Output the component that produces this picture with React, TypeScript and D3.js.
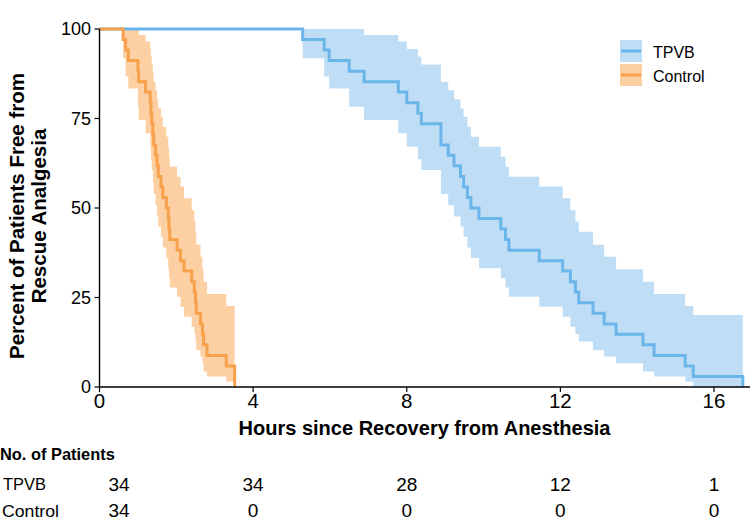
import React from "react";
import * as d3 from "d3";

// ---- Data ----
// TPVB group: event times (hours), percent free, and confidence band
const tpvbTimes = [0, 5.29, 5.85, 5.98, 6.5, 6.89, 7.78, 8.0, 8.29, 8.38, 8.89, 9.08, 9.23, 9.4, 9.48, 9.58, 9.67, 9.88, 10.45, 10.57, 10.66, 11.45, 12.06, 12.26, 12.39, 12.48, 12.85, 13.14, 13.45, 14.15, 14.44, 15.25, 15.46, 16.75];
const tpvbSurv = [100, 97.1, 94.1, 91.2, 88.2, 85.3, 82.4, 79.4, 76.5, 73.5, 67.6, 64.7, 61.8, 58.8, 55.9, 52.9, 50.0, 47.1, 44.1, 41.2, 38.2, 35.3, 32.4, 29.4, 26.5, 23.5, 20.6, 17.6, 14.7, 11.8, 8.8, 5.9, 2.9, 0];
const tpvbUpper = [100, 100, 100, 100, 100, 98.3, 96.5, 94.4, 92.3, 90.1, 85.3, 82.9, 80.4, 77.8, 75.5, 72.7, 69.9, 67.1, 64.3, 61.5, 58.7, 56.0, 52.7, 49.4, 46.2, 43.4, 39.7, 36.4, 32.9, 29.4, 26.0, 22.6, 20.1, 20.1];
const tpvbLower = [100, 91.8, 86.7, 83.4, 78.3, 74.6, 70.9, 67.1, 63.6, 60.6, 53.9, 50.8, 47.6, 44.8, 42.0, 39.0, 36.0, 33.2, 30.4, 27.8, 25.2, 22.4, 19.6, 16.8, 14.8, 12.7, 10.3, 8.5, 6.6, 4.3, 2.9, 1.5, 0, 0];

// Control group
const controlTimes = [0, 0.615, 0.68, 0.75, 1.0, 1.02, 1.2, 1.32, 1.34, 1.36, 1.39, 1.41, 1.46, 1.5, 1.53, 1.6, 1.65, 1.74, 1.79, 1.81, 1.83, 2.02, 2.11, 2.2, 2.4, 2.47, 2.5, 2.52, 2.63, 2.68, 2.71, 2.8, 3.3, 3.52];
const controlSurv = [100, 97.1, 94.1, 91.2, 88.2, 85.3, 82.4, 79.4, 76.5, 73.5, 70.6, 67.6, 64.7, 61.8, 58.8, 55.9, 52.9, 50.0, 47.1, 44.1, 41.2, 38.2, 35.3, 32.4, 29.4, 26.5, 23.5, 20.6, 17.6, 14.7, 11.8, 8.8, 5.9, 0];
const controlUpper = [100, 100, 100, 100, 100, 98.3, 96.5, 94.4, 92.3, 90.1, 87.7, 85.3, 82.9, 80.4, 77.8, 75.5, 72.7, 69.9, 67.1, 64.3, 61.5, 58.7, 56.0, 52.7, 49.4, 46.2, 43.4, 39.7, 36.4, 32.9, 29.4, 26.0, 22.6, 22.6];
const controlLower = [100, 91.8, 86.7, 83.4, 78.3, 74.6, 70.9, 67.1, 63.6, 60.6, 57.2, 53.9, 50.8, 47.6, 44.8, 42.0, 39.0, 36.0, 33.2, 30.4, 27.8, 25.2, 22.4, 19.6, 16.8, 14.8, 12.7, 10.3, 8.5, 6.6, 4.3, 2.9, 1.5, 1.5];

const xTicks = [0, 4, 8, 12, 16];
const yTicks = [0, 25, 50, 75, 100];
const riskGroups = ["TPVB", "Control"];
const riskTPVB = [34, 34, 28, 12, 1];
const riskControl = [34, 0, 0, 0, 0];

const BLUE_LINE = "#6ab5ea";
const BLUE_BAND = "#bfdef5";
const ORANGE_LINE = "#f7a14c";
const ORANGE_BAND = "#fdd0a4";
const FONT = "'Liberation Sans', Arial, sans-serif";

export default function App() {
  const W = 750;
  const H = 521;
  const x = d3.scaleLinear().domain([0, 16]).range([99.5, 714]);
  const y = d3.scaleLinear().domain([0, 100]).range([387, 29]);

  type P = { t: number; s: number; u: number; l: number };
  const mk = (t: number[], s: number[], u: number[], l: number[]): P[] =>
    t.map((tt, i) => ({ t: tt, s: s[i], u: u[i], l: l[i] }));

  const tpvb = mk(tpvbTimes, tpvbSurv, tpvbUpper, tpvbLower);
  const ctrl = mk(controlTimes, controlSurv, controlUpper, controlLower);

  const line = d3
    .line<P>()
    .x((d) => x(d.t))
    .y((d) => y(d.s))
    .curve(d3.curveStepAfter);
  const area = d3
    .area<P>()
    .x((d) => x(d.t))
    .y0((d) => y(d.l))
    .y1((d) => y(d.u))
    .curve(d3.curveStepAfter);

  const riskX = [119, x(4), x(8), x(12), x(16)];

  return (
    <svg
      width={W}
      height={H}
      style={{ position: "absolute", left: 0, top: 0, background: "#fff" }}
      fontFamily={FONT}
    >
      <rect x={0} y={0} width={W} height={H} fill="#fff" />
      {/* bands */}
      <path d={area(tpvb) || ""} fill={BLUE_BAND} />
      <path d={area(ctrl) || ""} fill={ORANGE_BAND} />
      {/* lines */}
      <path d={line(tpvb) || ""} fill="none" stroke={BLUE_LINE} strokeWidth={3} />
      <path d={line(ctrl) || ""} fill="none" stroke={ORANGE_LINE} strokeWidth={3} />

      {/* axes */}
      <line x1={x(0)} x2={750} y1={y(0)} y2={y(0)} stroke="#000" strokeWidth={1.4} />
      <line x1={x(0)} x2={x(0)} y1={y(0)} y2={y(100)} stroke="#000" strokeWidth={1.4} />
      {xTicks.map((t) => (
        <g key={"xt" + t}>
          <line x1={x(t)} x2={x(t)} y1={y(0)} y2={y(0) + 5} stroke="#000" strokeWidth={1.2} />
          <text x={x(t)} y={408} fontSize={20.5} textAnchor="middle" fill="#000">
            {t}
          </text>
        </g>
      ))}
      {yTicks.map((v) => (
        <g key={"yt" + v}>
          <line x1={x(0) - 5} x2={x(0)} y1={y(v)} y2={y(v)} stroke="#000" strokeWidth={1.2} />
          <text x={91} y={y(v) + 6.3} fontSize={18} textAnchor="end" fill="#000">
            {v}
          </text>
        </g>
      ))}

      {/* axis titles */}
      <text
        x={424.5}
        y={435}
        fontSize={19.5}
        fontWeight="bold"
        textAnchor="middle"
        textLength={372}
        lengthAdjust="spacingAndGlyphs"
        fill="#000"
      >
        Hours since Recovery from Anesthesia
      </text>
      <g transform="translate(0,216) rotate(-90)">
        <text x={0} y={23.5} fontSize={20.5} fontWeight="bold" textAnchor="middle" fill="#000">
          Percent of Patients Free from
        </text>
        <text x={0} y={45.5} fontSize={20.5} fontWeight="bold" textAnchor="middle" fill="#000">
          Rescue Analgesia
        </text>
      </g>

      {/* legend */}
      <rect x={620} y={40} width={22} height={22} fill={BLUE_BAND} />
      <line x1={621} x2={641} y1={51} y2={51} stroke={BLUE_LINE} strokeWidth={3} />
      <rect x={620} y={64} width={22} height={22} fill={ORANGE_BAND} />
      <line x1={621} x2={641} y1={75} y2={75} stroke={ORANGE_LINE} strokeWidth={3} />
      <text x={653} y={57.5} fontSize={16} fill="#000">TPVB</text>
      <text x={653} y={81.5} fontSize={16} fill="#000">Control</text>

      {/* risk table */}
      <text x={0} y={460} fontSize={16.4} fontWeight="bold" fill="#000">
        No. of Patients
      </text>
      <text x={3} y={490} fontSize={16.4} fill="#000">{riskGroups[0]}</text>
      <text x={2} y={516.5} fontSize={16.4} textLength={57} lengthAdjust="spacingAndGlyphs" fill="#000">
        {riskGroups[1]}
      </text>
      {riskTPVB.map((v, i) => (
        <text key={"rt" + i} x={riskX[i]} y={491} fontSize={19} textAnchor="middle" fill="#000">
          {v}
        </text>
      ))}
      {riskControl.map((v, i) => (
        <text key={"rc" + i} x={riskX[i]} y={516.5} fontSize={19} textAnchor="middle" fill="#000">
          {v}
        </text>
      ))}
    </svg>
  );
}
